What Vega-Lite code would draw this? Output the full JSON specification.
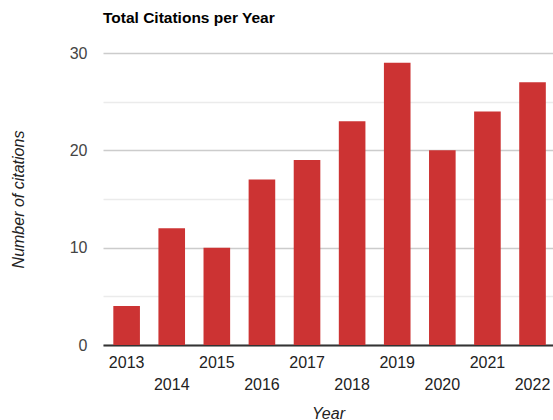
{
  "$schema": "https://vega.github.io/schema/vega-lite/v6.json",
  "autosize": "none",
  "width": 450,
  "height": 292,
  "padding": {"left": 103, "top": 53, "right": 0, "bottom": 75},
  "background": "white",
  "title": {
    "text": "Total Citations per Year",
    "anchor": "start",
    "frame": "group",
    "font": "Liberation Sans",
    "fontSize": 15.5,
    "fontWeight": "bold",
    "color": "#000000",
    "offset": 19
  },
  "data": {
    "values": [
      {"year": "2013", "citations": 4},
      {"year": "2014", "citations": 12},
      {"year": "2015", "citations": 10},
      {"year": "2016", "citations": 17},
      {"year": "2017", "citations": 19},
      {"year": "2018", "citations": 23},
      {"year": "2019", "citations": 29},
      {"year": "2020", "citations": 20},
      {"year": "2021", "citations": 24},
      {"year": "2022", "citations": 27}
    ]
  },
  "mark": {"type": "bar", "color": "#cc3333"},
  "encoding": {
    "x": {
      "field": "year",
      "type": "ordinal",
      "scale": {"paddingInner": 0.41, "paddingOuter": 0.194, "align": 0.59},
      "axis": {
        "title": "Year",
        "titleFont": "Liberation Sans",
        "titleFontSize": 16,
        "titleFontStyle": "italic",
        "titleFontWeight": "normal",
        "titleColor": "#222222",
        "titlePadding": 13,
        "labelAngle": 0,
        "labelFont": "Liberation Sans",
        "labelFontSize": 16,
        "labelColor": "#222222",
        "labelPadding": {"condition": {"test": "toNumber(datum.value) % 2 == 0", "value": 31}, "value": 9},
        "ticks": false,
        "domainColor": "#333333",
        "domainWidth": 2,
        "grid": false
      }
    },
    "y": {
      "field": "citations",
      "type": "quantitative",
      "scale": {"domain": [0, 30], "nice": false},
      "axis": {
        "title": "Number of citations",
        "titleFont": "Liberation Sans",
        "titleFontSize": 16,
        "titleFontStyle": "italic",
        "titleFontWeight": "normal",
        "titleColor": "#222222",
        "titlePadding": 43,
        "values": [0, 5, 10, 15, 20, 25, 30],
        "labelExpr": "datum.value % 10 == 0 ? datum.label : ''",
        "labelFont": "Liberation Sans",
        "labelFontSize": 16,
        "labelColor": "#444444",
        "labelPadding": 16,
        "ticks": false,
        "domain": false,
        "grid": true,
        "gridColor": {"condition": {"test": "datum.value % 10 == 0", "value": "#cccccc"}, "value": "#ebebeb"},
        "gridWidth": 1.5
      }
    }
  },
  "config": {"view": {"stroke": null}}
}
